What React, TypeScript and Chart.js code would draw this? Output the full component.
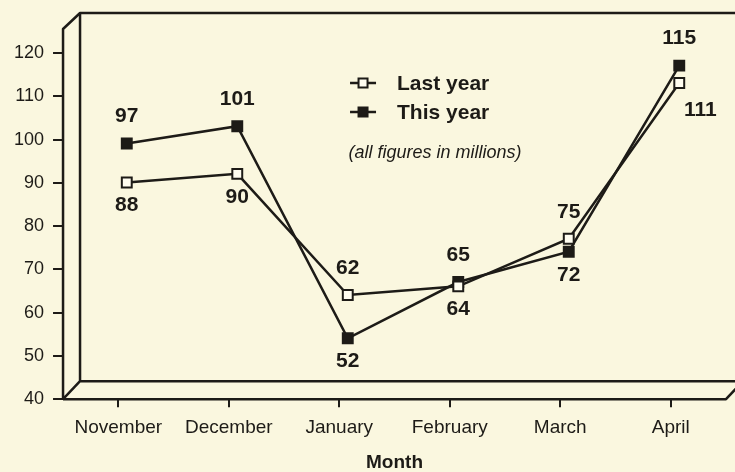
import React, { useEffect, useRef } from 'react';
import { Chart, registerables } from 'chart.js';

Chart.register(...registerables);

const months = ['November', 'December', 'January', 'February', 'March', 'April'];
const lastYear = [88, 90, 62, 64, 75, 111];
const thisYear = [97, 101, 52, 65, 72, 115];
const yTickValues = [40, 50, 60, 70, 80, 90, 100, 110, 120];
const seriesNames = ['Last year', 'This year'];
const noteText = '(all figures in millions)';
const xAxisTitle = 'Month';

const BG = '#faf7df';
const INK = '#1d1b17';
const FONT = '"Liberation Sans", Arial, Helvetica, sans-serif';
const DEPTH_X = 17;
const DEPTH_Y = 18;

const drawSquare = (ctx: CanvasRenderingContext2D, x: number, y: number, filled: boolean) => {
  ctx.beginPath();
  ctx.rect(x - 4.5, y - 4.5, 9, 9);
  ctx.fillStyle = filled ? INK : '#fffdf0';
  ctx.fill();
  ctx.lineWidth = 2;
  ctx.strokeStyle = INK;
  ctx.stroke();
};

const threeDPlugin = {
  id: 'threeD',
  beforeDraw(chart: any) {
    const { ctx, width, height } = chart;
    ctx.save();
    ctx.fillStyle = BG;
    ctx.fillRect(0, 0, width, height);
    ctx.restore();
  },
  beforeDatasetsDraw(chart: any) {
    const { ctx, chartArea: a, width } = chart;
    const backTop = a.top - 40;
    const frontTop = backTop + DEPTH_Y - 2;
    const bl = a.left + DEPTH_X;
    const bb = a.bottom - DEPTH_Y;
    ctx.save();
    ctx.strokeStyle = INK;
    ctx.lineWidth = 2.5;
    ctx.lineJoin = 'round';
    ctx.beginPath();
    ctx.moveTo(a.left, a.bottom);
    ctx.lineTo(a.left, frontTop);
    ctx.lineTo(bl, backTop);
    ctx.lineTo(width + 10, backTop);
    ctx.moveTo(bl, backTop);
    ctx.lineTo(bl, bb);
    ctx.lineTo(width + 10, bb);
    ctx.moveTo(a.left, a.bottom);
    ctx.lineTo(bl, bb);
    ctx.moveTo(a.left, a.bottom);
    ctx.lineTo(a.right, a.bottom);
    ctx.lineTo(a.right + DEPTH_X, bb);
    ctx.stroke();
    ctx.restore();
    // plotted lines sit at mid-depth
    ctx.save();
    ctx.translate(DEPTH_X / 2, -DEPTH_Y / 2);
  },
  afterDatasetsDraw(chart: any) {
    const { ctx } = chart;
    const m0 = chart.getDatasetMeta(0);
    const m1 = chart.getDatasetMeta(1);
    const last = months.length - 1;
    ctx.fillStyle = INK;
    ctx.font = `bold 21px ${FONT}`;
    ctx.textAlign = 'center';
    ctx.textBaseline = 'middle';
    months.forEach((_, i) => {
      const a = lastYear[i];
      const b = thisYear[i];
      const pa = m0.data[i];
      const pb = m1.data[i];
      const aHigh = a > b;
      // higher value labelled above, lower below
      const hi = aHigh ? { p: pa, v: a } : { p: pb, v: b };
      const lo = aHigh ? { p: pb, v: b } : { p: pa, v: a };
      ctx.fillText(String(hi.v), hi.p.x, hi.p.y - 27);
      if (i === last) ctx.fillText(String(lo.v), lo.p.x + 21, lo.p.y + 27);
      else ctx.fillText(String(lo.v), lo.p.x, lo.p.y + 23);
    });
    ctx.restore();
  },
  afterDraw(chart: any) {
    const { ctx, chartArea: a } = chart;
    const sx = a.left + 300;
    const tx = a.left + 334;
    const ys = [a.top + 30, a.top + 59];
    ctx.save();
    seriesNames.forEach((name, i) => {
      const y = ys[i];
      ctx.strokeStyle = INK;
      ctx.lineWidth = 2.5;
      ctx.beginPath();
      ctx.moveTo(sx - 13, y);
      ctx.lineTo(sx + 13, y);
      ctx.stroke();
      drawSquare(ctx, sx, y, i === 1);
      ctx.fillStyle = INK;
      ctx.font = `bold 21px ${FONT}`;
      ctx.textAlign = 'left';
      ctx.textBaseline = 'middle';
      ctx.fillText(name, tx, y + 1);
    });
    ctx.font = `italic 18px ${FONT}`;
    ctx.textAlign = 'center';
    ctx.fillText(noteText, a.left + 372, a.top + 100);
    ctx.restore();
  },
};

export default function App() {
  const ref = useRef<HTMLCanvasElement | null>(null);
  useEffect(() => {
    document.body.style.margin = '0';
    document.body.style.background = BG;
    const canvas = ref.current!;
    const chart = new Chart(canvas, {
      type: 'line',
      data: {
        labels: months,
        datasets: [
          {
            label: seriesNames[0],
            data: lastYear,
            borderColor: INK,
            borderWidth: 2.5,
            pointStyle: 'rect',
            pointRadius: 7,
            pointBackgroundColor: '#fffdf0',
            pointBorderColor: INK,
            pointBorderWidth: 2,
            tension: 0,
            clip: false,
          } as any,
          {
            label: seriesNames[1],
            data: thisYear,
            borderColor: INK,
            borderWidth: 2.5,
            pointStyle: 'rect',
            pointRadius: 7,
            pointBackgroundColor: INK,
            pointBorderColor: INK,
            pointBorderWidth: 2,
            tension: 0,
            clip: false,
          } as any,
        ],
      },
      options: {
        animation: false,
        responsive: false,
        devicePixelRatio: 1,
        layout: { padding: { left: 5, top: 53, right: 8, bottom: 0 } },
        plugins: { legend: { display: false }, tooltip: { enabled: false } },
        scales: {
          x: {
            type: 'category',
            offset: true,
            border: { display: false },
            grid: { drawOnChartArea: false, tickLength: 8, color: INK, lineWidth: 2, offset: false },
            ticks: { color: INK, font: { family: FONT, size: 19 }, padding: 9, maxRotation: 0 },
            title: {
              display: true,
              text: xAxisTitle,
              color: INK,
              font: { family: FONT, size: 19, weight: 'bold', lineHeight: 1 },
              padding: { top: 5, bottom: 0 },
            },
          },
          y: {
            min: yTickValues[0],
            max: yTickValues[yTickValues.length - 1],
            afterBuildTicks: (s: any) => {
              s.ticks = yTickValues.map((v) => ({ value: v }));
            },
            border: { display: false },
            grid: { drawOnChartArea: false, tickLength: 10, color: INK, lineWidth: 2 },
            ticks: { color: INK, font: { family: FONT, size: 18 }, padding: 9 },
          },
        },
      },
      plugins: [threeDPlugin],
    });
    return () => chart.destroy();
  }, []);
  return (
    <div style={{ position: 'absolute', left: 0, top: 0, width: 735, height: 472 }}>
      <canvas ref={ref} width={735} height={472} style={{ display: 'block' }} />
    </div>
  );
}
